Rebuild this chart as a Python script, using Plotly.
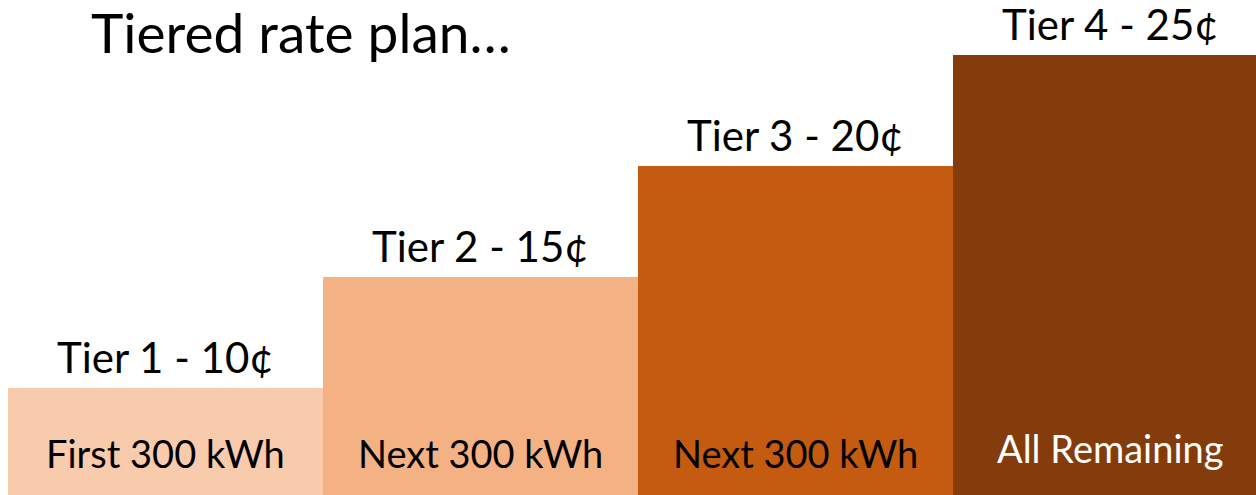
import plotly.graph_objects as go

tiers = ["Tier 1", "Tier 2", "Tier 3", "Tier 4"]
rates_cents = [10, 15, 20, 25]
usage_labels = ["First 300 kWh", "Next 300 kWh", "Next 300 kWh", "All Remaining"]
colors = ["#F8CBAD", "#F4B183", "#C55A11", "#843C0C"]
inner_text_colors = ["#000000", "#000000", "#000000", "#FFFFFF"]
title_text = "Tiered rate plan…"

FONT = "Lato"
W, H = 1256, 495

x = list(range(len(tiers)))
fig = go.Figure()
fig.add_trace(go.Bar(
    x=x, y=rates_cents, width=1.0,
    marker=dict(color=colors, line=dict(width=0)),
    hoverinfo="skip", showlegend=False,
))

annotations = []
for i, (t, r) in enumerate(zip(tiers, rates_cents)):
    annotations.append(dict(
        x=i, y=r, xref="x", yref="y", text=f"{t} - {r}¢",
        showarrow=False, yanchor="bottom", yshift=4,
        font=dict(family=FONT, size=42, color="#000000"),
    ))
    annotations.append(dict(
        x=i, y=0, xref="x", yref="paper", text=usage_labels[i],
        showarrow=False, yanchor="bottom", yshift=17 if i < 3 else 22,
        font=dict(family=FONT, size=38, color=inner_text_colors[i]),
    ))
annotations.append(dict(
    x=90 / W, y=1, xref="paper", yref="paper", text=title_text,
    showarrow=False, xanchor="left", yanchor="top", yshift=2, borderpad=0,
    font=dict(family=FONT, size=55, color="#000000"),
))

px_per_unit_x = 315.0
x0 = -0.5 - 8 / px_per_unit_x
x1 = x0 + W / px_per_unit_x
px_per_cent = (388 - 55) / 15.0
y0 = 10 - (H - 388) / px_per_cent
y1 = y0 + H / px_per_cent

fig.update_layout(
    width=W, height=H,
    margin=dict(l=0, r=0, t=0, b=0),
    paper_bgcolor="white", plot_bgcolor="white",
    bargap=0,
    xaxis=dict(range=[x0, x1], visible=False, fixedrange=True),
    yaxis=dict(range=[y0, y1], visible=False, fixedrange=True),
    annotations=annotations,
)

fig.write_html(
    "out.html",
    config={"displayModeBar": False},
    post_script="document.body.style.margin='0';document.body.style.overflow='hidden';",
)
